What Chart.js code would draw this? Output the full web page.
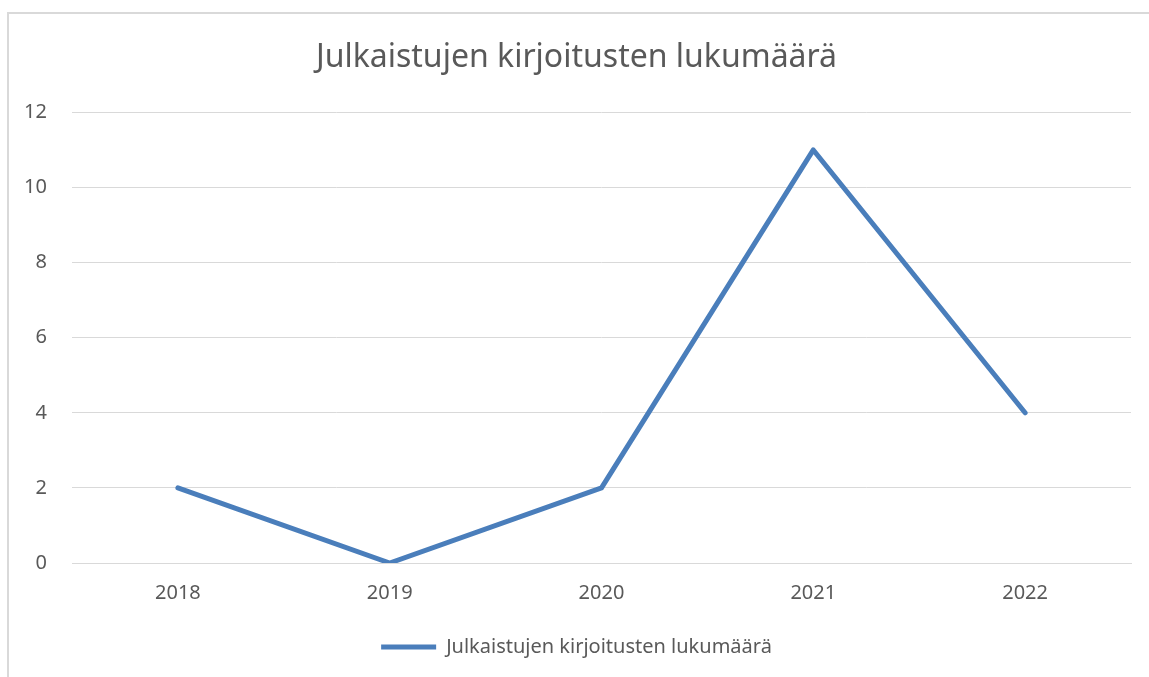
<!DOCTYPE html>
<html>
<head>
<meta charset="utf-8">
<script src="https://cdn.jsdelivr.net/npm/chart.js@4/dist/chart.umd.min.js"></script>
<style>
  body { margin: 0; background: #fff; }
  #frame { position: absolute; left: 7px; top: 12px; width: 1200px; height: 700px;
           border-left: 2px solid #d9d9d9; border-top: 2px solid #d9d9d9; }
  #wrap { position: absolute; left: 0; top: 0; width: 1149px; height: 677px; }
</style>
</head>
<body>
<div id="frame"></div>
<div id="wrap"><canvas id="myChart"></canvas></div>
<script>
const title = 'Julkaistujen kirjoitusten lukumäärä'
const years = ['2018', '2019', '2020', '2021', '2022']
const counts = [2, 0, 2, 11, 4]
const textColor = '#595959'
const fontName = '"Noto Sans", sans-serif'

var ctx = document.getElementById('myChart').getContext('2d');
var myChart = new Chart(ctx, {
  type: 'line',
  data: {
    labels: years,
    datasets: [{
      label: title,
      data: counts,
      borderColor: '#4a7ebb',
      backgroundColor: '#4a7ebb',
      borderWidth: 5,
      borderCapStyle: 'round',
      borderJoinStyle: 'round',
      pointRadius: 0,
      tension: 0
    }]
  },
  options: {
    responsive: true,
    maintainAspectRatio: false,
    animation: false,
    // some left padding nudges title/legend right, y axis takes the rest up to x=72
    layout: { padding: { left: 22, right: 18, top: 0, bottom: 10 } },
    plugins: {
      title: {
        display: true,
        text: title,
        color: textColor,
        font: { family: fontName, size: 32, weight: 'normal' },
        padding: { top: 39, bottom: 35 }
      },
      legend: {
        position: 'bottom',
        labels: {
          color: textColor,
          font: { family: fontName, size: 20 },
          usePointStyle: true,
          pointStyle: 'line',
          pointStyleWidth: 55
        }
      },
      tooltip: { enabled: false }
    },
    scales: {
      x: {
        offset: true,
        afterFit: function(scale) { scale.height = 64 },
        grid: { display: false, drawTicks: false },
        border: { color: '#d9d9d9' },
        ticks: { color: textColor, font: { family: fontName, size: 20 }, padding: 18 }
      },
      y: {
        min: 0,
        max: 12,
        afterFit: function(scale) { scale.width = 50 },
        grid: { color: '#d9d9d9', drawTicks: false },
        border: { display: false },
        ticks: { stepSize: 2, color: textColor, font: { family: fontName, size: 20 }, padding: 25 }
      }
    }
  }
});
</script>
</body>
</html>
